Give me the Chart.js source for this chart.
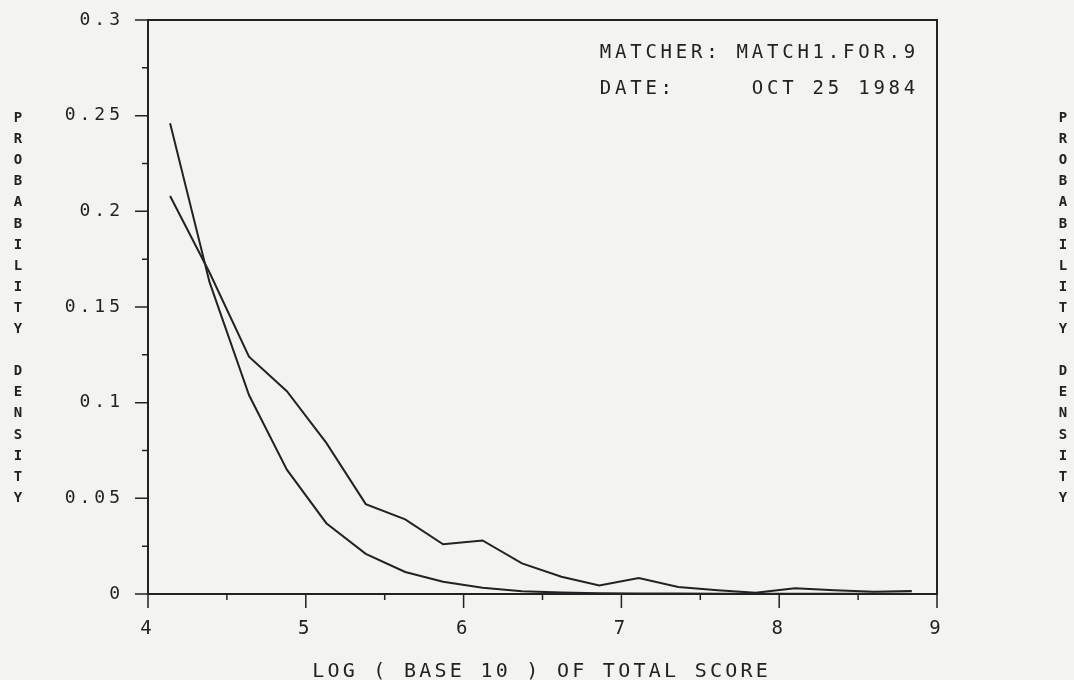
<!DOCTYPE html>
<html>
<head>
<meta charset="utf-8">
<script src="https://cdn.jsdelivr.net/npm/chart.js@4.4.0/dist/chart.umd.min.js"></script>
<style>
  html, body { margin: 0; padding: 0; background: #f3f3ef; }
  canvas { display: block; }
</style>
</head>
<body>
<canvas id="densityChart" width="1074" height="680"></canvas>
<script>
// log10 of total score (bin centres) and the two density curves
const logScore = [4.14, 4.39, 4.64, 4.88, 5.13, 5.38, 5.63, 5.87, 6.12, 6.37,
                  6.62, 6.86, 7.11, 7.36, 7.61, 7.85, 8.10, 8.35, 8.60, 8.84];
const densitySteep = [0.246, 0.163, 0.104, 0.065, 0.037, 0.021, 0.0115, 0.0064, 0.0033, 0.0015,
                      0.0008, 0.0004, 0.0003, 0.0002, 0.0001, 0.0001, 0.0001, 0.0001, 0.0001, 0.0001];
const densityFlat = [0.208, 0.168, 0.124, 0.106, 0.079, 0.047, 0.039, 0.026, 0.028, 0.016,
                     0.009, 0.0045, 0.0083, 0.0037, 0.002, 0.0006, 0.003, 0.002, 0.0012, 0.0016];

const xTitle = "LOG ( BASE 10 ) OF TOTAL SCORE";
const yTitle = "PROBABILITY DENSITY";
const notes = ["MATCHER: MATCH1.FOR.9", "DATE:     OCT 25 1984"];

const ink = "#222";
const mono = "'DejaVu Sans Mono', 'Liberation Mono', monospace";

function toPoints(xs, ys) {
    return xs.map((x, i) => ({ x: x, y: ys[i] }));
}

// draw a string one character at a time with a fixed pitch (plotter style)
function plotText(ctx, text, x, y, pitch) {
    for (let i = 0; i < text.length; i++) {
        ctx.fillText(text[i], x + i * pitch, y);
    }
}

const plotterLook = {
    id: "plotterLook",
    beforeDraw(chart) {
        chart.ctx.letterSpacing = "4px";
    },
    beforeDatasetsDraw(chart) {
        chart.ctx.letterSpacing = "0px";
    },
    afterDraw(chart) {
        const ctx = chart.ctx;
        const area = chart.chartArea;
        const xs = chart.scales.x;
        const ys = chart.scales.y;
        ctx.save();
        ctx.strokeStyle = ink;
        ctx.lineWidth = 2;

        // frame top and right
        ctx.beginPath();
        ctx.moveTo(area.left, area.top);
        ctx.lineTo(area.right, area.top);
        ctx.lineTo(area.right, area.bottom);
        ctx.stroke();

        // tick marks
        ctx.lineWidth = 1.5;
        ctx.beginPath();
        ys.ticks.forEach(t => {
            const py = ys.getPixelForValue(t.value);
            const major = Math.abs(t.value / 0.05 - Math.round(t.value / 0.05)) < 1e-6;
            ctx.moveTo(area.left - (major ? 13 : 6), py);
            ctx.lineTo(area.left, py);
        });
        xs.ticks.forEach(t => {
            const px = xs.getPixelForValue(t.value);
            const major = Math.abs(t.value - Math.round(t.value)) < 1e-6;
            ctx.moveTo(px, area.bottom);
            ctx.lineTo(px, area.bottom + (major ? 14 : 6));
        });
        ctx.stroke();

        ctx.fillStyle = ink;
        ctx.textAlign = "center";
        ctx.textBaseline = "alphabetic";

        // notes in the upper right
        ctx.font = "19px " + mono;
        plotText(ctx, notes[0], 605.5, 58, 15.2);
        plotText(ctx, notes[1], 605.5, 94, 15.2);

        // x axis title
        ctx.font = "20px " + mono;
        const pitch = 15.3;
        const start = 540 - (xTitle.length - 1) * pitch / 2;
        plotText(ctx, xTitle, start, 677, pitch);

        // stacked y titles on both sides
        ctx.font = "bold 14px " + mono;
        for (let i = 0; i < yTitle.length; i++) {
            const cy = 122 + i * 21.1;
            ctx.fillText(yTitle[i], 18, cy);
            ctx.fillText(yTitle[i], 1063, cy);
        }
        ctx.restore();
    }
};

new Chart(document.getElementById("densityChart"), {
    type: "line",
    data: {
        datasets: [
            {
                label: "steep",
                data: toPoints(logScore, densitySteep),
                borderColor: ink,
                borderWidth: 2,
                pointRadius: 0,
                tension: 0,
                fill: false
            },
            {
                label: "flat",
                data: toPoints(logScore, densityFlat),
                borderColor: ink,
                borderWidth: 2,
                pointRadius: 0,
                tension: 0,
                fill: false
            }
        ]
    },
    options: {
        responsive: false,
        animation: false,
        layout: { padding: { left: 0, right: 137, top: 20, bottom: 0 } },
        plugins: {
            legend: { display: false },
            tooltip: { enabled: false }
        },
        scales: {
            x: {
                type: "linear",
                min: 4,
                max: 9,
                afterFit: s => { s.height = 86; s.paddingLeft = 0; s.paddingRight = 0; },
                border: { display: true, color: ink, width: 2 },
                grid: { display: false, drawTicks: false },
                ticks: {
                    stepSize: 0.5,
                    padding: 24,
                    color: ink,
                    font: { family: mono, size: 19 },
                    callback: v => Number.isInteger(v) ? String(v) : ""
                }
            },
            y: {
                min: 0,
                max: 0.3,
                afterFit: s => { s.width = 148; s.paddingTop = 0; s.paddingBottom = 0; },
                border: { display: true, color: ink, width: 2 },
                grid: { display: false, drawTicks: false },
                ticks: {
                    stepSize: 0.025,
                    padding: 24,
                    color: ink,
                    font: { family: mono, size: 18 },
                    callback: v => {
                        const r = Math.round(v * 1000) / 1000;
                        return Math.abs(r / 0.05 - Math.round(r / 0.05)) < 1e-6 ? String(r) : "";
                    }
                }
            }
        }
    },
    plugins: [plotterLook]
});
</script>
</body>
</html>
